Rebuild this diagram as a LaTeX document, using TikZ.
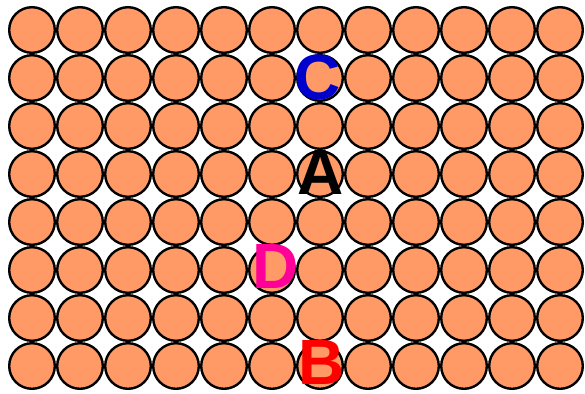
\documentclass[tikz,border=0pt]{standalone}
\usepackage{fontspec}
\setmainfont{Liberation Sans}
\definecolor{cellfill}{HTML}{FF9966}
\definecolor{cblue}{HTML}{0000CC}
\definecolor{dpink}{HTML}{FF0099}
\definecolor{bred}{HTML}{FF0000}
\begin{document}
\begin{tikzpicture}[x=1pt,y=-1pt,
  cell/.style={circle,draw=black,line width=2.4pt,fill=cellfill,minimum size=45.6pt,inner sep=0pt},
  lbl/.style={inner sep=0pt,font=\bfseries\fontsize{64}{64}\selectfont}]
\useasboundingbox (0,0) rectangle (585,393);
\foreach \r in {0,...,7}
  \foreach \c in {0,...,11}
    \node[cell] (c\r-\c) at ({32+48*\c},{30+48*\r}) {};
\node[lbl,text=cblue] (C) at (318,77) {C};
\node[lbl,text=black] (A) at (321,172) {A};
\node[lbl,text=dpink] (D) at (276,266) {D};
\node[lbl,text=bred] (B) at (322,362) {B};
\end{tikzpicture}
\end{document}
